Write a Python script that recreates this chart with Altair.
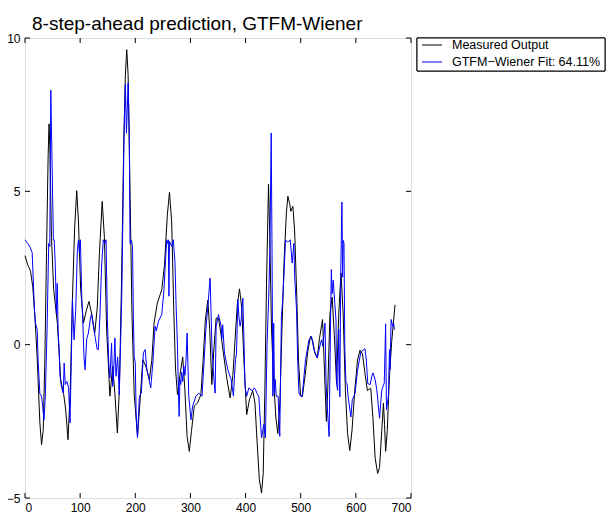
import altair as alt
import pandas as pd

title_text = "8-step-ahead prediction, GTFM-Wiener"
series_names = ["Measured Output", "GTFM\u2212Wiener Fit: 64.11%"]
series_colors = ["#000000", "#0000ff"]
x_ticks = [0, 100, 200, 300, 400, 500, 600, 700]
y_ticks = [-5, 0, 5, 10]

measured_x = [0, 5, 10, 14, 18, 22, 27, 30, 33, 36, 39, 42, 43.6, 45, 48, 52, 58.7, 64.7, 70, 73.8,
              78, 82, 86, 90, 93.8, 97, 101, 106, 111, 116, 121, 126.5, 131, 135, 140, 144, 148, 154,
              159, 163, 167.5, 171, 175, 179, 182, 184.5, 187, 190, 194, 198, 204, 208, 213.6, 219,
              225.6, 230, 234, 240, 248, 253, 258, 262, 266, 270, 273, 276.5, 281, 286, 290, 294, 298,
              302, 307, 313, 319, 323, 327, 331.5, 335, 338.8, 342, 346.6, 351, 355, 360, 366, 372,
              377, 381, 385, 389, 393, 397, 402, 407, 413, 417, 421, 425, 429, 432, 435, 438, 441.6,
              444, 447, 451, 455, 458.5, 462, 466, 470, 474, 476.7, 480, 482, 485.8, 489, 493, 496,
              499.7, 503, 508, 513, 517.8, 522, 526, 530, 534, 539.6, 543, 546.5, 549, 553, 557, 561,
              565, 569, 573, 577, 581, 585, 589, 593, 598, 603, 607.5, 612, 617, 621, 624, 627, 631,
              635, 639.5, 643, 647, 650, 652, 654, 657, 661, 665, 668, 671]
measured_y = [2.9, 2.6, 2.4, 1.9, 0.9, -0.4, -2.55, -3.26, -2.8, -0.5, 3.0, 6.2, 7.2, 6.5, 3.5, 1.8,
              0.7, -1.14, -1.6, -2.12, -3.1, -1.5, 1.5, 3.8, 5.02, 4.0, 1.8, 0.7, 1.1, 1.41, 1.0, 0.38,
              1.2, 3.0, 4.67, 3.5, 0.5, -1.68, -0.7, -1.6, -2.88, -1.5, 2.0, 6.5, 8.8, 9.62, 8.8, 5.5,
              1.0, -1.6, -2.99, -2.0, -0.49, -0.7, -1.14, -0.5, 0.7, 1.36, 1.79, 2.6, 4.2, 4.97, 4.0,
              1.0, -0.8, -1.63, -1.0, -0.4, -1.5, -3.0, -3.48, -2.8, -2.0, -1.9, -1.63, -0.5, 0.8,
              1.45, 0.5, -1.3, -0.3, 0.87, 0.85, 0.4, -0.3, -1.1, -1.74, -1.0, 0.2, 1.3, 1.82, 1.2,
              -0.5, -2.28, -1.8, -1.5, -1.9, -3.2, -4.4, -4.84, -4.2, -1.5, 2.0, 5.24, 3.5, 0.5,
              -1.2, -2.4, -2.9, -2.0, 0.5, 2.8, 4.3, 4.84, 4.6, 4.35, 4.51, 3.7, 1.5, -0.5, -1.63,
              -1.7, -1.0, -0.2, 0.27, 0.1, -0.3, -0.43, 0.2, 0.82, -0.8, -2.5, -1.5, 1.0, 1.55, 0.3,
              -1.27, 1.0, 2.34, 1.0, -1.5, -2.9, -3.45, -2.8, -1.5, -0.5, -0.18, -0.3, -1.0, -1.5,
              -1.45, -1.43, -2.4, -3.7, -4.2, -4.0, -2.8, -1.9, -2.6, -3.48, -2.8, -1.0, 0.1, 0.7, 1.3]

wiener_x = [0, 5, 10, 13, 17, 19, 22, 24, 27, 30, 32, 34.5, 37, 40, 43, 45, 46.8, 49, 51.5, 53, 55,
            57, 58.5, 60, 62, 63.5, 66, 69.5, 71, 73, 76, 79, 81.7, 84, 86, 89, 92, 95, 97, 98.6,
            100.5, 103, 104.7, 107, 109, 112, 115, 119, 121, 124, 127, 131, 133, 136, 139, 142, 145,
            147, 149.4, 152, 154, 157, 159, 161, 163, 165, 168, 171, 175.5, 179.7, 182, 184, 187,
            189, 190.5, 193, 195, 196.5, 198, 200, 201.5, 204, 207.5, 211, 214.7, 217.8, 221, 223.8,
            228, 231.8, 236, 238, 242, 248, 252, 255, 257, 259, 260, 261, 262, 266, 269, 272, 274,
            276.5, 277.5, 279.5, 281, 282.5, 284, 286, 288, 290, 292, 294, 297, 301, 304, 310, 315,
            321, 325, 328, 331.5, 335.7, 339, 341.7, 344.8, 346.6, 350.8, 355.7, 357, 358.5, 361.7,
            367.8, 373.9, 378, 380, 381.7, 383.5, 386, 388, 390, 392, 395, 397, 399, 402, 406, 412,
            416, 418, 421, 424, 426.5, 429, 433, 436, 439, 442, 444, 446.5, 448, 449.5, 451, 452.5,
            454, 455.5, 459, 462, 465, 467, 469.5, 472.5, 476, 478.5, 481, 484.5, 487.6, 489, 492.4,
            494.5, 496.8, 499.7, 502.7, 508.7, 515, 519.6, 524, 530, 536, 538, 540, 542, 544, 546,
            548, 551.5, 554, 555.5, 557, 559, 562, 564, 565, 567, 569, 571, 572.5, 574.7, 576, 577,
            578.5, 580, 582, 584, 586, 591, 593.5, 598.5, 603, 609, 616.5, 619, 621.6, 626, 629, 631,
            635, 638, 643, 647, 651.5, 654, 655.5, 659, 661, 662, 664, 666.6, 668.4, 670]
wiener_y = [3.42, 3.3, 3.15, 3.0, 1.2, 0.7, 0.5, -0.6, -1.6, -1.68, -2.0, -2.45, -1.6, 0.5, 3.3, 3.2,
            8.3, 6.0, 3.42, 3.42, 2.55, 1.0, 2.0, 0.5, -0.2, -1.03, -1.36, -1.58, -0.6, -1.3, -1.2,
            -1.4, -2.55, -0.5, 1.47, 0.16, 1.14, 3.1, 3.42, 3.0, 3.42, 1.5, 0.82, -0.4, -0.82, 0.2,
            0.38, 0.9, 0.98, 0.6, 0.27, -0.16, -0.16, 1.0, 2.6, 3.42, 3.3, 3.42, 0.82, -0.6, -1.09,
            0.05, -1.36, -0.8, 0.22, -1.03, -0.4, -1.63, 1.58, 6.9, 8.48, 6.9, 8.53, 7.0, 3.3, 3.4,
            3.2, 0.92, -0.38, -0.6, -2.23, -3.04, -1.68, -1.58, -0.27, -0.16, -0.8, -1.03, -1.41,
            -0.6, 0.6, 0.45, 0.76, 0.98, 1.79, 2.8, 3.42, 3.3, 3.42, 1.58, 3.37, 3.2, 3.42, 2.66,
            1.3, -0.05, -0.92, -2.34, -1.14, -1.3, -0.9, -1.2, -0.7, -1.0, -0.5, 0.38, -1.68, -2.45,
            -2.0, -1.68, -1.58, -1.68, -0.49, 0.5, 1.25, 2.17, -0.05, -0.92, -1.58, 0.6, 0.98, 0.6,
            0.2, 0.65, -0.27, -0.82, -1.14, -1.68, -1.0, -0.49, -0.3, 1.47, 0.9, 0.6, 0.8, 1.52, 0.2,
            -1.36, -1.68, -1.41, -1.5, -1.41, -1.47, -1.6, -1.68, -2.4, -3.04, -2.6, -3.04, 0.05,
            1.58, 3.0, 6.9, 3.0, -1.68, 0.7, -1.58, -1.14, -1.68, -1.68, -2.99, 0.92, 1.36, 2.23,
            3.42, 3.35, 3.37, 3.42, 2.66, 3.3, 2.23, 1.14, -0.5, -1.58, -1.68, -1.68, -0.49, 0.16,
            0.27, -0.16, -0.43, 0.05, 0.16, -0.05, 0.3, 0.7, -1.25, -2.0, -3.0, 0.6, 2.45, 1.66, 2.1,
            1.3, 0.8, -1.27, -1.49, 0.5, -1.7, 2.2, 4.65, 2.2, 3.4, 3.3, -0.18, -1.22, -1.27, -1.7,
            -2.36, -1.8, -1.6, -0.84, -0.24, -0.13, -0.5, -1.27, -1.3, -1.03, -0.92, -1.14, -1.47,
            -2.4, -1.47, -1.25, 0.68, -2.12, -1.68, -0.16, -0.82, 0.82, 0.6, 0.7, 0.49]

df = pd.concat([
    pd.DataFrame({"x": measured_x, "y": measured_y, "series": series_names[0]}),
    pd.DataFrame({"x": wiener_x, "y": wiener_y, "series": series_names[1]}),
], ignore_index=True)

FONT = "Liberation Sans"
W, H = 386, 460

xs = alt.Scale(domain=[0, 700], nice=False, zero=False)
ys = alt.Scale(domain=[-5, 10], nice=False, zero=False)
xaxis = alt.Axis(values=x_ticks, title=None, grid=False, ticks=False, domain=False,
                 labelFontSize=12, labelFont=FONT, labelColor="black", labelPadding=4, format="d")
yaxis = alt.Axis(values=y_ticks, title=None, grid=False, ticks=False, domain=False,
                 labelFontSize=12, labelFont=FONT, labelColor="black", labelPadding=5, format="d")

color = alt.Color("series:N", scale=alt.Scale(domain=series_names, range=series_colors), legend=None)

base = alt.Chart(df).mark_line(strokeWidth=1).encode(
    x=alt.X("x:Q", scale=xs, axis=xaxis),
    y=alt.Y("y:Q", scale=ys, axis=yaxis),
    color=color,
    order="x:Q",
)
measured = base.transform_filter(alt.datum.series == series_names[0])
wiener = base.transform_filter(alt.datum.series == series_names[1])

# inward ticks on all four sides (MATLAB box style)
tx = pd.DataFrame({"t": x_ticks})
ty = pd.DataFrame({"t": y_ticks})
tick_len = 5
xb = alt.Chart(tx).mark_rule(color="black", strokeWidth=1).encode(
    x=alt.X("t:Q", scale=xs, axis=xaxis), y=alt.value(H), y2=alt.value(H - tick_len))
xt = alt.Chart(tx).mark_rule(color="black", strokeWidth=1).encode(
    x=alt.X("t:Q", scale=xs, axis=xaxis), y=alt.value(0), y2=alt.value(tick_len))
yl = alt.Chart(ty).mark_rule(color="black", strokeWidth=1).encode(
    y=alt.Y("t:Q", scale=ys, axis=yaxis), x=alt.value(0), x2=alt.value(tick_len))
yr = alt.Chart(ty).mark_rule(color="black", strokeWidth=1).encode(
    y=alt.Y("t:Q", scale=ys, axis=yaxis), x=alt.value(W), x2=alt.value(W - tick_len))

# legend box (outside, to the right of the axes)
leg = pd.DataFrame({"name": series_names, "color": series_colors, "row": [0, 1]})
LX, LY, ROW = 392, 7, 17
leg_box = alt.Chart(leg).mark_rect(fill="white", stroke="black", strokeWidth=1).encode(
    x=alt.value(LX), x2=alt.value(LX + 188), y=alt.value(0), y2=alt.value(33))
leg_base = alt.Chart(leg).transform_calculate(py=f"{LY} + datum.row * {ROW}")
leg_sym = leg_base.mark_rule(strokeWidth=1).encode(
    x=alt.value(LX + 5), x2=alt.value(LX + 25),
    y=alt.Y("py:Q", scale=None, axis=None),
    color=alt.Color("color:N", scale=None, legend=None))
leg_txt = leg_base.mark_text(align="left", baseline="middle", fontSize=12.5, font=FONT,
                             color="black").encode(
    x=alt.value(LX + 35), y=alt.Y("py:Q", scale=None, axis=None), text="name:N")

chart = alt.layer(measured, wiener, xb, xt, yl, yr, leg_box, leg_sym, leg_txt).properties(
    width=W, height=H,
    title=alt.TitleParams(text=title_text, anchor="start", frame="group", fontSize=19,
                          font=FONT, fontWeight="normal", color="black", dx=7, dy=11, offset=9),
    autosize=alt.AutoSizeParams(type="none"),
    padding={"left": 17, "top": 30, "right": 195, "bottom": 16},
).configure_view(stroke="black", strokeWidth=1).configure(background="white")

chart.save("out.html", embed_options={"renderer": "svg", "actions": False})
